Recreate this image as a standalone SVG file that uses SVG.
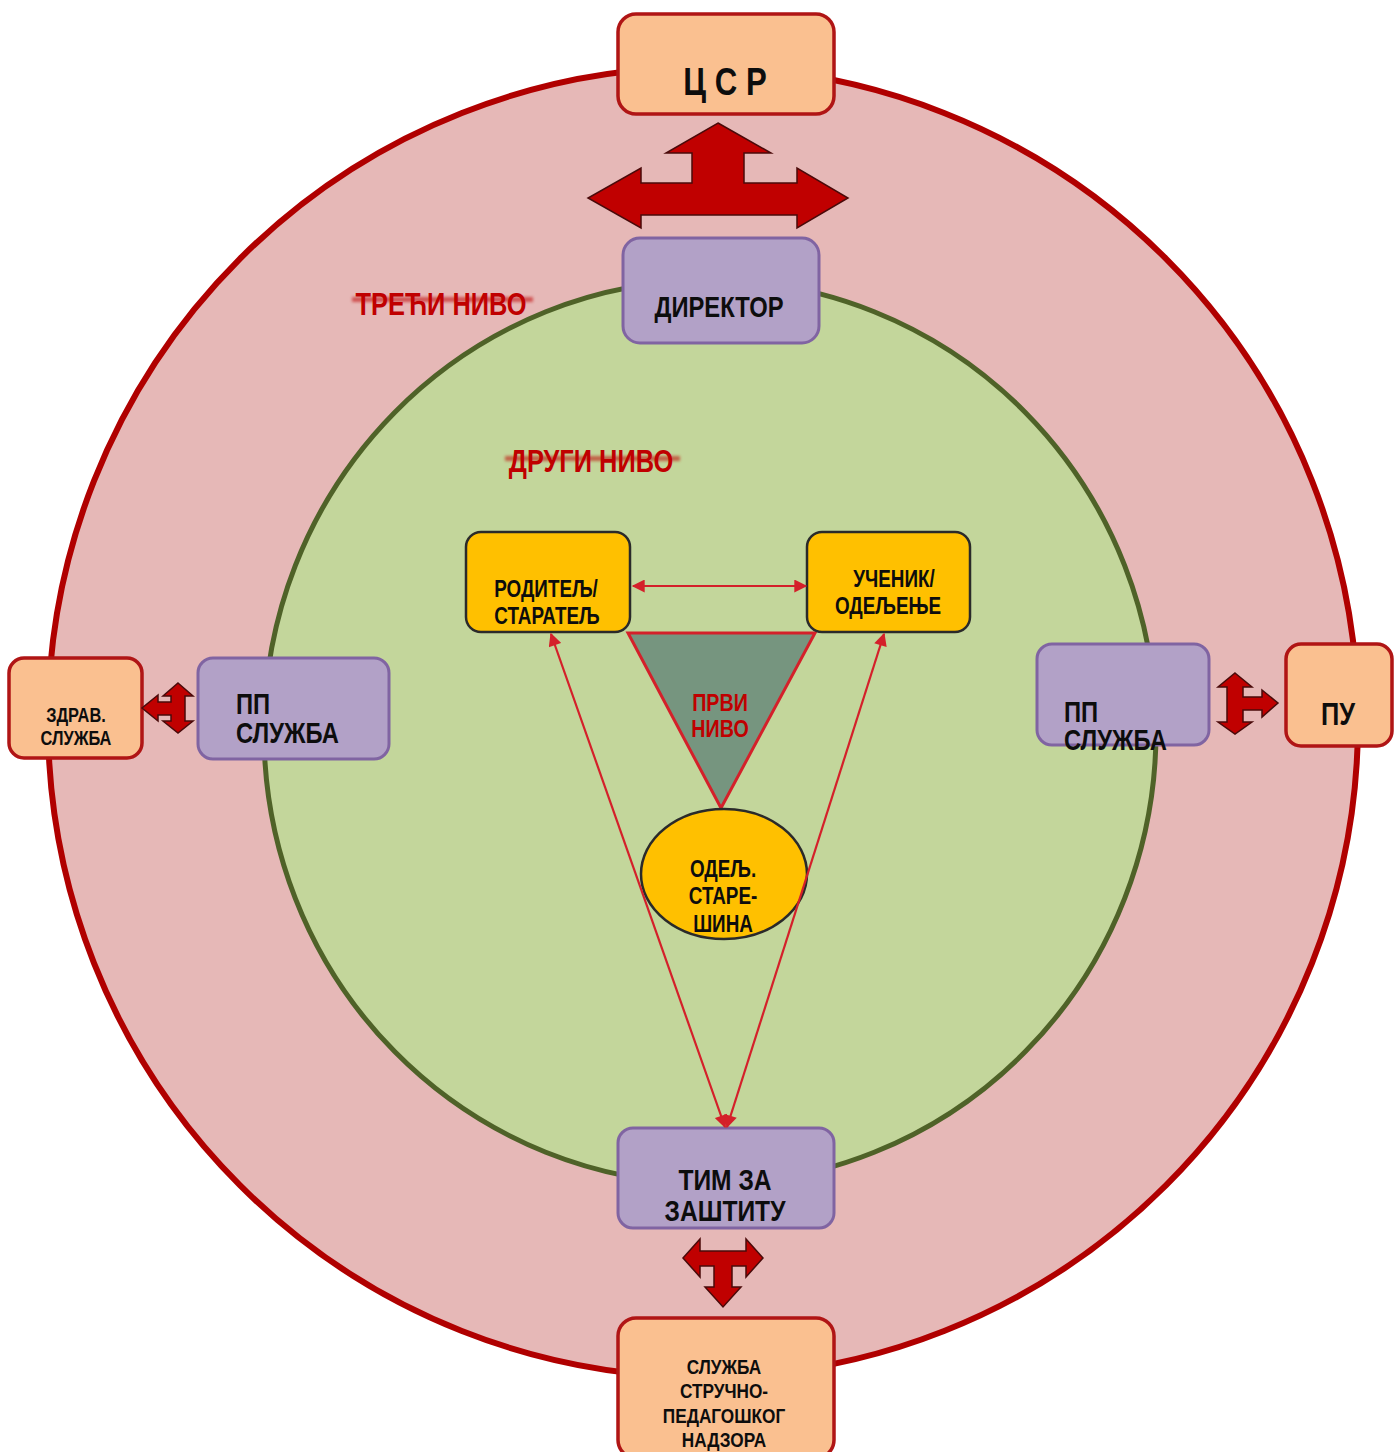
<svg xmlns="http://www.w3.org/2000/svg" width="1394" height="1452" viewBox="0 0 1394 1452">
  <defs>
    <style>
      text { font-family: "Liberation Sans", Arial, sans-serif; font-weight: bold; text-anchor: middle; fill: #0d0d0d; }
      .lvl { fill: #c00000; }
      .peach { fill: #fac090; stroke: #b01515; stroke-width: 3.5; }
      .violet { fill: #b2a1c7; stroke: #8064a2; stroke-width: 3; }
      .gold { fill: #ffc000; stroke: #2a2a2a; stroke-width: 2.5; }
      .fat { fill: #c00000; stroke: #4a0a0a; stroke-width: 1.5; stroke-linejoin: miter; }
      .thin { stroke: #d4202a; stroke-width: 2.2; fill: none; }
      .strike { fill: #c00000; opacity: 0.55; }
    </style>
    <marker id="head" viewBox="0 0 10 10" refX="9" refY="5" markerWidth="15" markerHeight="13" markerUnits="userSpaceOnUse" orient="auto-start-reverse">
      <path d="M0,0 L10,5 L0,10 Z" fill="#d4202a"/>
    </marker>
    <filter id="soft" filterUnits="userSpaceOnUse" x="0" y="0" width="1394" height="1452">
      <feGaussianBlur stdDeviation="1.6"/>
    </filter>
  </defs>

  <!-- level rings -->
  <circle cx="703" cy="722" r="655" fill="#e6b8b7" stroke="#b00000" stroke-width="6"/>
  <ellipse cx="710" cy="732" rx="446" ry="452" fill="#c3d69b" stroke="#4f6228" stroke-width="5"/>

  <!-- level captions (narrow bold type: glyphs squeezed horizontally) -->
  <g id="level-3">
    <rect class="strike" x="352" y="297" width="181" height="5" filter="url(#soft)"/>
    <text class="lvl" transform="matrix(0.82 0 0 1 441 315)" font-size="31">ТРЕЋИ НИВО</text>
  </g>
  <g id="level-2">
    <rect class="strike" x="505" y="456" width="175" height="5" filter="url(#soft)"/>
    <text class="lvl" transform="matrix(0.82 0 0 1 591 472)" font-size="31">ДРУГИ НИВО</text>
  </g>

  <!-- nodes -->
  <g id="csr">
    <rect class="peach" x="618" y="14" width="216" height="100" rx="18"/>
    <text transform="matrix(0.82 0 0 1 725 95)" font-size="38">Ц С Р</text>
  </g>
  <g id="director">
    <rect class="violet" x="623" y="238" width="196" height="105" rx="17"/>
    <text transform="matrix(0.82 0 0 1 719 317)" font-size="29">ДИРЕКТОР</text>
  </g>
  <g id="health">
    <rect class="peach" x="9" y="658" width="133" height="100" rx="15"/>
    <text transform="matrix(0.82 0 0 1 76 722)" font-size="20">ЗДРАВ.</text>
    <text transform="matrix(0.82 0 0 1 76 745)" font-size="20">СЛУЖБА</text>
  </g>
  <g id="pp-left">
    <rect class="violet" x="198" y="658" width="191" height="101" rx="15"/>
    <text transform="matrix(0.82 0 0 1 236 714)" font-size="29" style="text-anchor:start">ПП</text>
    <text transform="matrix(0.82 0 0 1 236 743)" font-size="29" style="text-anchor:start">СЛУЖБА</text>
  </g>
  <g id="pp-right">
    <rect class="violet" x="1037" y="644" width="172" height="101" rx="15"/>
    <text transform="matrix(0.82 0 0 1 1064 722)" font-size="29" style="text-anchor:start">ПП</text>
    <text transform="matrix(0.82 0 0 1 1064 750)" font-size="29" style="text-anchor:start">СЛУЖБА</text>
  </g>
  <g id="pu">
    <rect class="peach" x="1286" y="644" width="106" height="102" rx="15"/>
    <text transform="matrix(0.82 0 0 1 1338 725)" font-size="31">ПУ</text>
  </g>
  <g id="first-level">
    <polygon points="628,633 815,633 721,808" fill="#76957f" stroke="#d4202a" stroke-width="3"/>
    <text class="lvl" transform="matrix(0.82 0 0 1 720 711)" font-size="24">ПРВИ</text>
    <text class="lvl" transform="matrix(0.82 0 0 1 720 737)" font-size="24">НИВО</text>
  </g>
  <g id="parent">
    <rect class="gold" x="466" y="532" width="164" height="100" rx="15"/>
    <text transform="matrix(0.82 0 0 1 546 597)" font-size="23">РОДИТЕЉ/</text>
    <text transform="matrix(0.82 0 0 1 547 624)" font-size="23">СТАРАТЕЉ</text>
  </g>
  <g id="student">
    <rect class="gold" x="807" y="532" width="163" height="100" rx="15"/>
    <text transform="matrix(0.82 0 0 1 894 587)" font-size="23">УЧЕНИК/</text>
    <text transform="matrix(0.82 0 0 1 888 614)" font-size="23">ОДЕЉЕЊЕ</text>
  </g>
  <g id="class-teacher">
    <ellipse class="gold" cx="724" cy="874" rx="83" ry="65"/>
    <text transform="matrix(0.82 0 0 1 723 877)" font-size="23">ОДЕЉ.</text>
    <text transform="matrix(0.82 0 0 1 723 904)" font-size="23">СТАРЕ-</text>
    <text transform="matrix(0.82 0 0 1 723 932)" font-size="23">ШИНА</text>
  </g>
  <g id="protection-team">
    <rect class="violet" x="618" y="1128" width="216" height="100" rx="15"/>
    <text transform="matrix(0.82 0 0 1 725 1190)" font-size="30">ТИМ ЗА</text>
    <text transform="matrix(0.82 0 0 1 725 1221)" font-size="30">ЗАШТИТУ</text>
  </g>
  <g id="supervision">
    <rect class="peach" x="618" y="1318" width="216" height="140" rx="18"/>
    <text transform="matrix(0.82 0 0 1 724 1374)" font-size="21">СЛУЖБА</text>
    <text transform="matrix(0.82 0 0 1 724 1398)" font-size="21">СТРУЧНО-</text>
    <text transform="matrix(0.82 0 0 1 724 1423)" font-size="21">ПЕДАГОШКОГ</text>
    <text transform="matrix(0.82 0 0 1 724 1447)" font-size="21">НАДЗОРА</text>
  </g>

  <!-- connectors -->
  <g id="connectors">
    <!-- block arrows between levels -->
    <polygon class="fat" points="718,123 771,153 744,153 744,183 797,183 797,168 848,198 797,228 797,215 641,215 641,228 588,198 641,168 641,183 692,183 692,153 666,153"/>
    <polygon class="fat" points="683,1258 700,1239 700,1251 746,1251 746,1239 763,1258 746,1277 746,1266 732,1266 732,1287 741,1287 723,1307 705,1287 714,1287 714,1266 700,1266 700,1277"/>
    <polygon class="fat" points="178,683 193,696 185,696 185,721 193,721 178,733 163,721 171,721 171,715 158,715 158,721 142,708 158,695 158,702 171,702 171,696 163,696"/>
    <polygon class="fat" points="1235,673 1252,687 1243,687 1243,697 1262,697 1262,690 1278,703 1262,717 1262,710 1243,710 1243,722 1252,722 1235,734 1218,722 1227,722 1227,687 1218,687"/>
    <!-- thin links -->
    <line class="thin" x1="633" y1="586" x2="806" y2="586" marker-start="url(#head)" marker-end="url(#head)"/>
    <line class="thin" x1="725" y1="1127" x2="551" y2="634" marker-start="url(#head)" marker-end="url(#head)"/>
    <line class="thin" x1="727" y1="1127" x2="884" y2="634" marker-start="url(#head)" marker-end="url(#head)"/>
  </g>
</svg>
